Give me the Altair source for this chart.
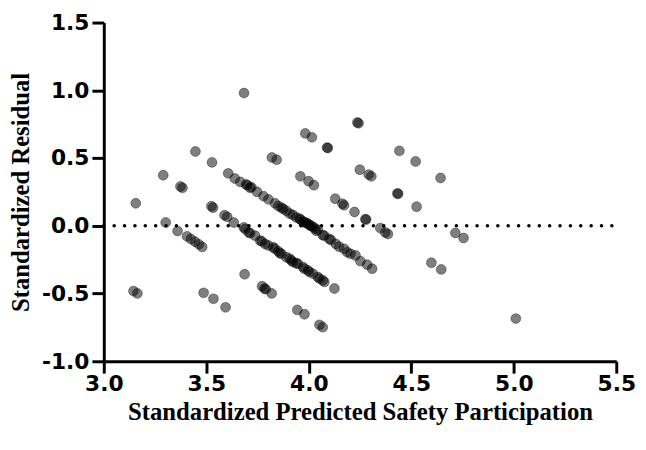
import altair as alt
import pandas as pd

# Scattered points (predicted, residual)
other_x = [3.684, 3.447, 3.528, 3.290, 3.374, 3.384, 3.156, 3.525, 3.533, 3.589,
           3.602, 3.634, 3.302, 3.360, 3.406, 3.425, 3.445, 3.464, 3.480, 3.687,
           3.145, 3.164, 3.487, 3.535, 3.594, 3.772, 3.784, 3.790, 3.819, 3.820,
           3.843, 3.944, 3.979, 4.052, 4.068, 4.237, 4.243, 3.983, 4.015, 4.089,
           4.093, 4.442, 4.521, 4.643, 3.959, 3.999, 4.025, 4.249, 4.292, 4.305,
           4.129, 4.164, 4.172, 4.223, 4.276, 4.280, 4.432, 4.436, 4.526, 4.349,
           4.373, 4.386, 4.598, 4.646, 4.125, 4.715, 4.755, 5.010]
other_y = [0.980, 0.548, 0.468, 0.373, 0.290, 0.280, 0.166, 0.144, 0.134, 0.078,
           0.066, 0.024, 0.024, -0.039, -0.078, -0.097, -0.117, -0.137, -0.156, -0.358,
           -0.482, -0.499, -0.495, -0.539, -0.602, -0.446, -0.463, -0.468, -0.499, 0.504,
           0.488, -0.621, -0.653, -0.731, -0.748, 0.762, 0.757, 0.682, 0.653, 0.577,
           0.574, 0.553, 0.475, 0.353, 0.365, 0.329, 0.300, 0.414, 0.378, 0.365,
           0.200, 0.163, 0.151, 0.102, 0.049, 0.046, 0.239, 0.236, 0.141, -0.017,
           -0.049, -0.061, -0.273, -0.322, -0.463, -0.053, -0.090, -0.685]

# Upper diagonal band
upper_x = [3.607, 3.639, 3.666, 3.694, 3.700, 3.714, 3.720, 3.747, 3.779, 3.803,
           3.835, 3.851, 3.867, 3.875, 3.891, 3.907, 3.923, 3.939, 3.955, 3.960,
           3.972, 3.978, 3.985, 3.996, 4.003, 4.010, 4.020, 4.030, 4.036, 4.044,
           4.068, 4.076, 4.100, 4.108, 4.132, 4.148, 4.172, 4.188, 4.204, 4.228,
           4.252, 4.285, 4.309]
upper_y = [0.387, 0.349, 0.324, 0.305, 0.300, 0.280, 0.285, 0.251, 0.219, 0.195,
           0.166, 0.146, 0.134, 0.125, 0.110, 0.090, 0.080, 0.061, 0.053, 0.045,
           0.031, 0.026, 0.022, 0.017, 0.004, 0.000, -0.007, -0.020, -0.037, -0.029,
           -0.069, -0.073, -0.097, -0.105, -0.134, -0.154, -0.170, -0.195, -0.207, -0.219,
           -0.261, -0.287, -0.317]

# Lower diagonal band
lower_x = [3.683, 3.690, 3.707, 3.714, 3.738, 3.763, 3.771, 3.787, 3.803, 3.827,
           3.833, 3.851, 3.859, 3.867, 3.891, 3.907, 3.915, 3.923, 3.939, 3.947,
           3.972, 3.979, 3.996, 4.003, 4.020, 4.044, 4.052, 4.068, 4.076]
lower_y = [-0.012, -0.024, -0.049, -0.055, -0.073, -0.110, -0.115, -0.134, -0.145, -0.159,
           -0.168, -0.188, -0.202, -0.207, -0.232, -0.243, -0.256, -0.268, -0.276, -0.280,
           -0.305, -0.317, -0.329, -0.341, -0.353, -0.378, -0.390, -0.402, -0.414]

x_ticks = [3.0, 3.5, 4.0, 4.5, 5.0, 5.5]
y_ticks = [-1.0, -0.5, 0.0, 0.5, 1.0, 1.5]
ref_line = {"x": [3.0], "x2": [5.5], "y": [0.0]}

df = pd.DataFrame({
    "pred": other_x + upper_x + lower_x,
    "resid": other_y + upper_y + lower_y,
})
ref_df = pd.DataFrame(ref_line)

label_expr = "replace(format(datum.value, '.1f'), '\u2212', '-')"

x_scale = alt.Scale(domain=[3.0, 5.5], nice=False, zero=False)
y_scale = alt.Scale(domain=[-1.0, 1.5], nice=False, zero=False)

x_axis = alt.Axis(values=x_ticks, labelExpr=label_expr, grid=False, labelFlush=False,
                  title="Standardized Predicted Safety Participation",
                  labelPadding=1, titlePadding=5)
y_axis = alt.Axis(values=y_ticks, labelExpr=label_expr, grid=False, labelFlush=False,
                  title="Standardized Residual", labelPadding=3, titlePadding=8)

points = alt.Chart(df).mark_circle(
    size=100, color="black", fillOpacity=0.5,
    stroke="black", strokeOpacity=0.35, strokeWidth=1
).encode(
    x=alt.X("pred:Q", scale=x_scale, axis=x_axis),
    y=alt.Y("resid:Q", scale=y_scale, axis=y_axis),
)

rule = alt.Chart(ref_df).mark_rule(
    color="black", strokeWidth=3.5, strokeDash=[0.1, 10.4], strokeCap="round"
).encode(
    x=alt.X("x:Q", scale=x_scale),
    x2="x2:Q",
    y=alt.Y("y:Q", scale=y_scale),
)

chart = alt.layer(rule, points).properties(
    width=519, height=343,
    autosize=alt.AutoSizeParams(type="none"),
    padding={"left": 97, "top": 12, "right": 22, "bottom": 80},
).configure_view(stroke=None).configure_axis(
    domainColor="black", domainWidth=3, tickColor="black", tickWidth=3,
    tickSize=12, labelFont="DejaVu Sans", labelFontWeight="bold",
    labelFontSize=22, labelColor="black", titleFont="Liberation Serif",
    titleFontWeight="bold", titleFontSize=25, titleColor="black",
)

chart.save("out.html", embed_options={"renderer": "svg", "actions": False})
